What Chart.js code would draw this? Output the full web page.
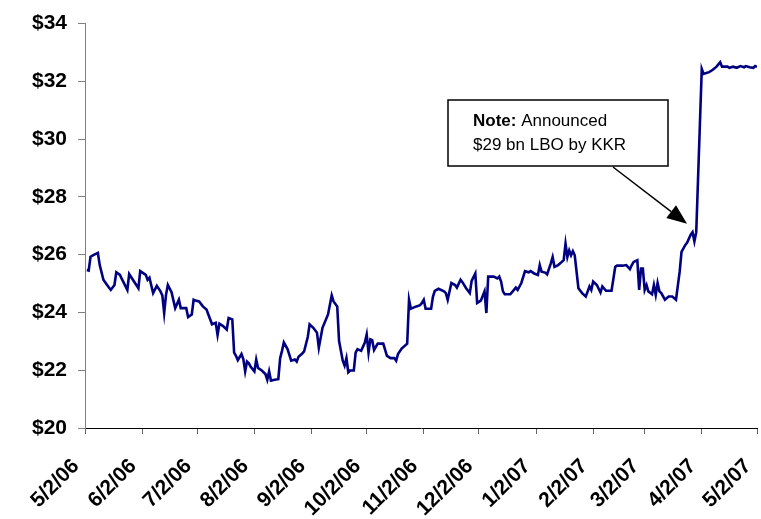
<!DOCTYPE html>
<html>
<head>
<meta charset="utf-8">
<script src="https://cdn.jsdelivr.net/npm/chart.js@4/dist/chart.umd.min.js"></script>
<style>
  body { margin: 0; background: #fff; }
  #wrap { width: 761px; height: 519px; }
</style>
</head>
<body>
<div id="wrap"><canvas id="myChart"></canvas></div>
<script>
// days after 5/2/06 and closing price
const dayOffsets = [1, 2, 3, 5, 7, 8, 10, 12, 14, 16, 17, 19, 20, 23, 24, 26, 29, 30, 33, 34, 35, 37, 39, 41, 42, 43, 44, 45, 47, 49,
  51, 52, 55, 56, 58, 59, 60, 62, 64, 66, 67, 69, 71, 72, 73, 75, 77, 78, 80, 81, 82, 83, 85, 86, 87, 88, 89, 90, 92, 93,
  94, 96, 98, 99, 100, 101, 103, 105, 106, 107, 108, 110, 112, 114, 115, 116, 118, 119, 121, 122, 124, 126, 127, 129, 132, 134, 135, 137, 138, 140,
  141, 142, 143, 144, 146, 147, 148, 150, 152, 153, 154, 155, 156, 157, 159, 162, 164, 166, 168, 169, 170, 172, 175, 176, 177, 180, 182, 183, 184, 185,
  188, 189, 190, 192, 195, 196, 197, 199, 201, 202, 204, 205, 207, 209, 210, 212, 213, 215, 217, 218, 219, 222, 224, 225, 226, 227, 228, 231, 233, 234,
  235, 237, 239, 241, 242, 244, 246, 247, 248, 250, 251, 253, 254, 255, 257, 259, 260, 261, 262, 263, 264, 265, 266, 268, 270, 272, 274, 275, 276, 278,
  280, 281, 283, 286, 288, 289, 292, 294, 296, 297, 298, 300, 301, 302, 303, 304, 305, 306, 308, 309, 310, 311, 312, 313, 315, 317, 319, 321, 323, 324,
  326, 327, 329, 330, 331, 332, 335, 336, 339, 341, 343, 345, 346, 349, 350, 352, 354, 356, 358, 359, 361, 363, 364, 365];
const prices = [25.47, 25.45, 25.93, 26.00, 26.06, 25.64, 25.13, 24.95, 24.78, 24.95, 25.39, 25.30, 25.16, 24.78, 25.33, 25.13, 24.84, 25.43, 25.30, 25.13, 25.20, 24.67, 24.92, 24.73, 24.59, 23.98, 24.61, 24.95, 24.70, 24.15,
  24.44, 24.15, 24.15, 23.84, 23.93, 24.44, 24.41, 24.38, 24.21, 24.10, 23.93, 23.59, 23.64, 23.22, 23.61, 23.53, 23.41, 23.81, 23.76, 22.61, 22.50, 22.35, 22.56, 22.39, 21.96, 22.30, 22.24, 22.12, 21.96, 22.37,
  22.08, 21.99, 21.87, 21.67, 21.96, 21.64, 21.67, 21.69, 22.42, 22.67, 22.96, 22.73, 22.33, 22.37, 22.30, 22.47, 22.58, 22.65, 23.15, 23.59, 23.47, 23.30, 22.78, 23.47, 23.93, 24.59, 24.38, 24.21, 23.01, 22.33,
  22.16, 22.42, 21.93, 21.99, 21.99, 22.61, 22.73, 22.67, 22.96, 23.24, 22.61, 23.07, 23.04, 22.70, 22.92, 22.92, 22.50, 22.42, 22.42, 22.33, 22.56, 22.75, 22.92, 24.44, 24.13, 24.21, 24.25, 24.33, 24.44, 24.13,
  24.13, 24.55, 24.75, 24.82, 24.73, 24.67, 24.44, 25.02, 24.95, 24.86, 25.13, 25.05, 24.84, 24.67, 25.09, 25.35, 24.33, 24.41, 24.73, 23.98, 25.24, 25.24, 25.18, 25.24, 25.07, 24.73, 24.63, 24.63, 24.78, 24.86,
  24.78, 25.02, 25.43, 25.39, 25.43, 25.35, 25.30, 25.64, 25.41, 25.38, 25.32, 25.70, 25.92, 25.58, 25.64, 25.75, 25.81, 26.38, 25.92, 26.15, 25.98, 26.12, 25.98, 24.84, 24.67, 24.55, 24.90, 24.78, 25.07, 24.95,
  24.69, 24.90, 24.75, 24.75, 25.58, 25.62, 25.62, 25.64, 25.50, 25.64, 25.75, 25.81, 24.78, 25.52, 25.52, 24.78, 24.95, 24.73, 24.63, 24.95, 24.61, 25.02, 24.73, 24.67, 24.44, 24.55, 24.55, 24.44, 25.41, 26.10,
  26.33, 26.41, 26.69, 26.78, 26.46, 26.78, 32.43, 32.26, 32.32, 32.40, 32.51, 32.66, 32.51, 32.51, 32.47, 32.51, 32.47, 32.53, 32.49, 32.53, 32.49, 32.47, 32.53, 32.50];

const tickDays = [0, 31, 61, 92, 123, 153, 184, 214, 245, 276, 304, 335, 365];
const tickLabels = ['5/2/06', '6/2/06', '7/2/06', '8/2/06', '9/2/06', '10/2/06', '11/2/06', '12/2/06',
  '1/2/07', '2/2/07', '3/2/07', '4/2/07', '5/2/07'];
const yMin = 20, yMax = 34, yStep = 2;

// where the note's arrow points (day, price)
const arrowTip = [327, 27.07];
const noteLines = [['Note:', ' Announced'], ['', '$29 bn LBO by KKR']];

const fontFam = '"Liberation Sans", Arial, sans-serif';

const noteBox = {
  id: 'noteBox',
  afterDraw(chart) {
    const ctx = chart.ctx;
    const tx = chart.scales.x.getPixelForValue(arrowTip[0]);
    const ty = chart.scales.y.getPixelForValue(arrowTip[1]);
    const bx = 448, by = 100, bw = 220, bh = 66;
    ctx.save();
    // box
    ctx.fillStyle = '#fff';
    ctx.fillRect(bx, by, bw, bh);
    ctx.strokeStyle = '#000';
    ctx.lineWidth = 1.5;
    ctx.strokeRect(bx, by, bw, bh);
    // text
    ctx.fillStyle = '#000';
    ctx.textBaseline = 'alphabetic';
    noteLines.forEach((ln, i) => {
      let x = 473;
      const yy = 126 + i * 24;
      ctx.font = 'bold 17px ' + fontFam;
      ctx.fillText(ln[0], x, yy);
      x += ctx.measureText(ln[0]).width;
      ctx.font = '17px ' + fontFam;
      ctx.fillText(ln[1], x, yy);
    });
    // arrow
    const sx = 613, sy = 167;
    const ang = Math.atan2(ty - sy, tx - sx);
    const hl = 20, hw = 8;
    const bxp = tx - hl * Math.cos(ang), byp = ty - hl * Math.sin(ang);
    ctx.beginPath();
    ctx.moveTo(sx, sy);
    ctx.lineTo(bxp, byp);
    ctx.lineWidth = 1.5;
    ctx.stroke();
    ctx.beginPath();
    ctx.moveTo(tx, ty);
    ctx.lineTo(bxp + hw * Math.sin(ang), byp - hw * Math.cos(ang));
    ctx.lineTo(bxp - hw * Math.sin(ang), byp + hw * Math.cos(ang));
    ctx.closePath();
    ctx.fill();
    ctx.restore();
  }
};

const ctx = document.getElementById('myChart').getContext('2d');
const c = new Chart(ctx, {
  type: 'line',
  data: {
    datasets: [{
      data: dayOffsets.map((d, i) => ({ x: d, y: prices[i] })),
      borderColor: '#000080',
      borderWidth: 2.6,
      pointRadius: 0,
      tension: 0,
      fill: false
    }]
  },
  options: {
    responsive: true,
    maintainAspectRatio: false,
    animation: false,
    layout: { padding: { top: 19, right: 4, left: 0, bottom: 0 } },
    plugins: { legend: { display: false }, tooltip: { enabled: false } },
    scales: {
      x: {
        type: 'linear',
        min: 0,
        max: 365,
        afterBuildTicks: s => { s.ticks = tickDays.map(v => ({ value: v })); },
        // keep the plot running right to the edge like the original
        afterFit: s => { s.height = 91; s.paddingRight = 0; s.paddingLeft = 0; },
        grid: { drawOnChartArea: false, drawTicks: true, tickLength: 6, color: '#666' },
        border: { display: true, color: '#000', width: 1 },
        ticks: {
          autoSkip: false,
          maxRotation: 45,
          minRotation: 45,
          padding: 20,
          labelOffset: -9,
          color: '#000',
          font: { family: fontFam, size: 21, weight: 'bold' },
          callback: (v, i) => tickLabels[i]
        }
      },
      y: {
        min: yMin,
        max: yMax,
        afterFit: s => { s.width = 85; },
        grid: { drawOnChartArea: false, drawTicks: true, tickLength: 7, color: '#808080' },
        border: { display: true, color: '#808080', width: 1 },
        ticks: {
          stepSize: yStep,
          padding: 11,
          color: '#000',
          font: { family: fontFam, size: 21, weight: 'bold' },
          callback: v => '$' + v
        }
      }
    }
  },
  plugins: [noteBox]
});
</script>
</body>
</html>
